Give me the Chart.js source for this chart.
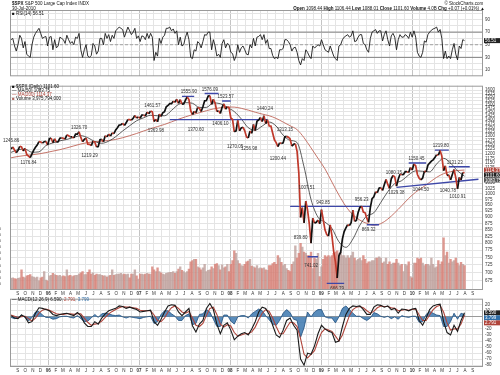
<!DOCTYPE html>
<html>
<head>
<meta charset="utf-8">
<script src="https://cdn.jsdelivr.net/npm/chart.js@4.4.1/dist/chart.umd.min.js"></script>
<style>
  body { margin: 0; background: #fff; }
  #wrap { position: relative; width: 500px; height: 375px; overflow: hidden; font-family: "Liberation Sans", Arial, sans-serif; }
  canvas { position: absolute; left: 0; }
  .t { position: absolute; font-size: 10px; line-height: 1; white-space: nowrap; color: #111; transform: scale(0.45); transform-origin: 0 0; }
  .r { transform-origin: 100% 0; }
</style>
</head>
<body>
<div id="wrap">
  <canvas id="rsi" width="500" height="81" style="top:0"></canvas>
  <canvas id="main" width="500" height="216" style="top:81px"></canvas>
  <canvas id="macd" width="500" height="81" style="top:294px"></canvas>

  <div class="t" style="left:12px;top:1px"><b>$SPX</b> S&amp;P 500 Large Cap Index INDX</div>
  <div class="t" style="left:12px;top:6px">30-Jul-2010</div>
  <div class="t" style="left:12px;top:11px">&#9632; RSI(14) 56.51</div>
  <div class="t r" style="right:17px;top:1px">&copy; StockCharts.com</div>
  <div class="t r" style="right:15px;top:6px"><b>Open</b> 1098.44 <b>High</b> 1106.44 <b>Low</b> 1088.01 <b>Close</b> 1101.60 <b>Volume</b> 4.0B <b>Chg</b> +0.07 (+0.01%) &#9650;</div>

  <div class="t" style="left:12px;top:84px">&#9632; $SPX (Daily) 1101.60</div>
  <div class="t" style="left:12px;top:88px">&mdash; MA(50) 1083.75</div>
  <div class="t" style="left:12px;top:92px;color:#b0443a">&mdash; MA(200) 1114.37</div>
  <div class="t" style="left:12px;top:96px;color:#b06a62">&#9632; <span style="color:#111">Volume 3,975,794,000</span></div>

  <div class="t" style="left:12px;top:297px">&mdash; MACD(12,26,9) 6.590, <span style="color:#b0443a">2.791</span>, <span style="color:#2f6ea8">3.799</span></div>
</div>

<script>
// weekly closes, week 0 = Fri 5 Aug 2005, last = Fri 30 Jul 2010
const price = [
  // 2005
  1226,1237,1220,1205,1218,1241,1237,1215,1229,1196,1187,1179,1199,1220,1235,1248,1268,1265,1259,1267,1269,1248,
  // 2006
  1285,1288,1261,1284,1264,1267,1287,1289,1287,1282,1307,1302,1295,1295,1289,1311,1311,1325,1292,1267,
  1280,1288,1253,1252,1245,1270,1265,1237,1240,1278,1280,1267,1302,1295,1311,1299,1319,1314,1336,1350,
  1366,1368,1377,1364,1380,1401,1400,1397,1409,1427,1410,1418,
  // 2007
  1409,1430,1430,1423,1449,1438,1456,1451,1388,1402,1386,1436,1421,1444,1452,1484,1494,1505,1505,1522,
  1515,1536,1507,1533,1502,1503,1530,1552,1534,1458,1433,1453,1445,1479,1474,1453,1484,1525,1527,1557,
  1561,1500,1535,1509,1453,1458,1440,1481,1504,1468,1484,1478,
  // 2008
  1411,1401,1325,1330,1395,1331,1349,1353,1331,1294,1288,1330,1316,1370,1332,1390,1398,1414,1388,1425,
  1375,1400,1361,1360,1318,1278,1262,1239,1261,1257,1260,1296,1298,1293,1283,1242,1252,1255,1213,1099,
  899,940,877,968,930,873,800,896,876,879,888,873,
  // 2009
  931,890,850,832,826,869,827,770,735,683,756,768,816,843,857,870,866,878,929,883,
  887,919,940,946,921,918,896,879,940,979,987,1010,1005,1026,1029,1016,1042,1068,1044,1025,
  1071,1087,1080,1036,1069,1093,1091,1092,1106,1106,1102,1127,1115,
  // 2010
  1145,1136,1092,1074,1066,1075,1109,1105,1139,1150,1160,1167,1179,1194,1192,1217,1187,1111,1136,1088,
  1089,1065,1092,1117,1076,1023,1078,1065,1102,1101.6
];

// weekly volume (axis units, 1000 = top label)
const volume = [
  190,200,185,180,190,200,330,210,200,230,240,250,220,210,200,210,150,200,210,300,160,150,
  230,240,270,250,240,230,240,220,230,220,330,230,240,220,230,240,240,260,280,300,250,
  250,290,330,260,280,240,260,250,250,240,230,230,210,230,240,330,240,250,260,260,270,250,
  260,250,260,200,260,260,330,230,180,
  260,260,250,260,270,260,260,380,330,300,360,300,280,260,250,270,280,290,290,300,270,
  300,340,380,320,300,280,300,340,460,480,500,500,380,360,330,360,420,300,320,330,380,350,
  420,430,400,330,410,360,380,420,300,
  420,480,640,600,480,430,400,390,420,460,470,500,390,380,360,400,350,360,350,360,330,320,
  400,400,430,450,420,560,520,450,400,420,350,320,300,420,460,720,520,600,760,700,620,600,
  560,560,620,350,520,500,600,220,
  380,500,560,540,560,540,560,600,620,640,600,620,560,560,520,560,520,560,620,520,480,500,
  520,480,560,500,430,460,460,480,480,520,520,540,520,440,460,520,420,460,420,440,440,500,
  440,400,420,300,420,400,460,220,200,
  440,440,520,500,520,440,400,420,420,400,520,420,360,380,480,420,460,850,560,620,440,
  500,460,480,520,440,400,450,420,400
];

// moving averages, sampled every 4 weeks
const ma50 = [
  1207,1222,1225,1208,1210,1245,1260,1272,1280,1292,1302,1290,1268,1258,1270,1296,1330,1362,1393,1412,
  1428,1425,1425,1460,1500,1512,1508,1480,1480,1510,1505,1480,1452,1405,1350,1335,1360,1385,1360,1305,
  1275,1262,1130,975,900,880,855,805,785,815,868,905,918,962,1010,1048,1062,1090,1110,1108,
  1105,1145,1175,1150,1110,1083.75
];
const ma200 = [
  1178,1185,1190,1194,1199,1206,1214,1222,1232,1243,1254,1262,1267,1270,1274,1280,1290,1302,1315,1330,
  1344,1357,1370,1386,1403,1418,1432,1445,1458,1470,1478,1483,1482,1474,1462,1448,1436,1425,1408,1385,
  1362,1338,1290,1232,1175,1120,1055,995,945,910,888,875,868,874,892,918,948,980,1008,1030,
  1054,1078,1096,1106,1112,1114.37
];

// RSI(14), weekly
const rsi = [
  58,60,48,40,50,65,60,45,55,35,32,30,50,62,68,72,76,68,60,62,63,48,
  62,63,42,58,45,48,62,60,58,52,65,58,52,55,50,62,60,68,42,30,42,50,32,30,33,52,48,35,40,60,
  60,50,68,60,66,55,65,60,72,75,78,76,74,62,70,78,72,66,70,76,60,64,
  55,64,63,58,68,60,68,62,25,38,32,60,52,62,65,76,76,78,72,75,68,72,50,62,48,50,62,70,58,30,
  28,42,40,55,52,45,55,66,65,70,70,42,58,48,32,35,30,52,58,45,52,50,
  38,36,25,32,50,38,45,48,42,35,34,50,45,60,48,62,63,66,58,66,52,58,44,44,33,28,30,28,42,42,
  44,58,58,55,50,40,45,46,38,25,18,28,25,42,38,32,28,48,45,47,50,48,
  58,50,42,40,38,48,40,32,28,25,48,50,58,62,64,66,62,64,72,55,56,62,66,66,52,50,42,38,60,70,
  72,74,68,72,72,56,66,72,58,48,64,68,62,42,58,66,62,62,66,64,60,70,62,
  72,62,38,32,30,38,56,54,66,70,73,75,76,78,70,74,60,28,40,28,32,28,42,52,35,26,48,44,58,56.51
];

// MACD(12,26,9), sampled every 2 weeks
const macdLine = [
  2,-2,-3,3,0,-10,-8,6,15,14, 12,10,4,2,4,5,6,4,2,7, 2,-10,-16,-16,-8,-12,-2,5,10,12,
  14,18,17,14,16,14,12,8,9,10, 11,-8,-14,-4,8,18,20,19,8,2, 8,14,-15,-25,-12,-6,14,22,12,-12,
  -28,-14,-10,-22,-38,-32,-28,-26,-30,-20, -8,8,16,14,4,-14,-30,-34,-22,-6,
  -2,-14,-22,-70,-80,-60,-62,-48,-28,-14, -20,-24,-26,-42,-40,-16,4,14,18,17,
  18,12,4,4,16,20,19,16,18,12, 14,6,13,12,10,13,14,-6,-14,-2, 12,18,20,21,-8,-26,-30,-14,-24,-6, 6.59
];
const macdSignal = [
  3,1,-1,0,1,-3,-7,-2,6,11, 13,11,8,5,4,4,5,5,4,5, 5,-2,-9,-14,-12,-11,-7,-1,5,9,
  12,15,17,16,16,15,14,11,10,10, 10,3,-6,-8,-2,8,15,18,14,8, 6,9,-2,-14,-16,-11,2,14,16,4,
  -12,-17,-13,-15,-26,-32,-30,-28,-28,-25, -17,-5,6,12,9,-2,-16,-28,-28,-18,
  -9,-10,-16,-36,-62,-68,-62,-56,-40,-26, -20,-22,-24,-32,-40,-30,-14,2,12,16,
  17,15,10,6,9,15,18,17,17,15, 14,10,11,12,11,12,13,3,-6,-6, 3,12,17,19,8,-10,-22,-20,-20,-12, 2.791
];
const macdHist = [
  -1,-3,-2,3,-1,-7,-1,8,9,3, -1,-1,-4,-3,0,1,1,-1,-2,2, -3,-8,-7,-2,4,-1,5,6,5,3,
  2,3,0,-2,0,-1,-2,-3,-1,0, 1,-11,-8,4,10,10,5,1,-6,-6, 2,5,-13,-11,4,5,12,8,-4,-16,
  -16,3,3,-7,-12,0,2,2,-2,5, 9,13,10,2,-5,-12,-14,-6,6,12,
  7,-4,-6,-34,-18,8,0,8,12,12, 0,-2,-2,-10,0,14,18,12,6,1,
  1,-3,-6,-2,7,5,1,-1,1,-3, 0,-4,2,0,-1,1,1,-9,-8,4, 9,6,3,2,-16,-16,-8,6,-4,6, 3.799
];

// swing point labels (week, price, +1 above / -1 below)
const swingWeek  = [0, 10, 39, 45, 81, 83, 102, 106, 114, 120, 123, 128.5, 136.5, 145.5, 153, 157, 166, 169.5, 172, 179, 187, 201, 205, 219.5, 221, 232.5, 235, 246.4, 250.5, 254.4, 256];
const swingPrice = [1245.86, 1176.84, 1326.70, 1219.29, 1461.57, 1363.98, 1555.90, 1370.60, 1576.09, 1406.10, 1523.57, 1270.05, 1256.98, 1440.24, 1200.44, 1313.15, 839.80, 1007.51, 741.02, 943.85, 666.79, 956.23, 869.32, 1080.15, 1029.38, 1150.45, 1044.50, 1219.80, 1040.78, 1131.23, 1010.91];
const swingSide  = [1, -1, 1, -1, 1, -1, 1, -1, 1, -1, 1, -1, -1, 1, -1, 1, -1, 1, -1, 1, -1, 1, -1, 1, -1, 1, -1, 1, -1, 1, -1];

// drawn trend lines (from week, to week, start price, end price)
const lineFrom = [98, 111, 121, 91, 160, 170, 181, 204, 221, 228, 243, 251];
const lineTo   = [105, 119, 126, 147, 206, 176, 191, 211, 268, 238, 251, 263];
const lineP1   = [1555.9, 1576.09, 1523.57, 1400, 945, 752, 666.79, 869.32, 1030, 1150.45, 1219.8, 1131.23];
const lineP2   = [1555.9, 1576.09, 1523.57, 1400, 945, 752, 666.79, 869.32, 1069, 1150.45, 1219.8, 1131.23];

// axis ticks
const priceTicks = [675,700,725,750,775,800,825,850,875,900,925,950,975,1000,1025,1050,1075,1100,1125,1150,1175,
  1200,1225,1250,1275,1300,1325,1350,1375,1400,1425,1450,1475,1500,1525,1550,1575,1600];
const volTicks = [100,200,300,400,500,600,700,800,900,1000];
const rsiGrid = [10,20,30,40,50,60,70,80,90,100];
const rsiTicks = [10,30,50,70,90];
const rsiLevels = [30,50,70];
const macdTicks = [20,10,0,-10,-20,-30,-40,-50,-60,-70,-80];
const monthLetters = ['J','F','M','A','M','J','J','A','S','O','N','D'];

// value boxes on the right axis
const lastPrice = 1101.60, lastMa50 = 1083.75, lastMa200 = 1114.37;

const FONT = '"Liberation Sans", Arial, sans-serif';
const X_MIN = -0.6, X_MAX = 270.6;
const WEEK0 = Date.UTC(2005, 7, 5);

const monthPos = [], monthLbl = [], monthJan = [];
for (let y = 2005, m = 8; y * 12 + m <= 2010 * 12 + 8; m++) {
  if (m > 11) { m = 0; y++; }
  monthPos.push((Date.UTC(y, m, 1) - WEEK0) / (7 * 86400000));
  monthLbl.push(m === 0 ? String(y).slice(2) : monthLetters[m]);
  monthJan.push(m === 0);
}

Chart.defaults.font.family = FONT;
Chart.defaults.animation = false;
Chart.defaults.plugins.legend.display = false;
Chart.defaults.plugins.tooltip.enabled = false;

function xAxis(showLabels, h) {
  return {
    type: 'linear', min: X_MIN, max: X_MAX, offset: false,
    afterBuildTicks: s => { s.ticks = monthPos.map(v => ({ value: v })); },
    afterFit: s => { s.height = h; },
    grid: { offset: false, drawTicks: false, color: c => monthJan[c.index] ? '#c4c4c4' : '#e4e4e4' },
    border: { display: false },
    ticks: {
      display: showLabels, autoSkip: false, maxRotation: 0, padding: 1, color: '#333',
      font: c => ({ size: 4.5, family: FONT, weight: monthJan[c.index] ? 'bold' : 'normal' }),
      callback: (v, i) => monthLbl[i]
    }
  };
}

const frame = {
  id: 'frame',
  afterDraw(c) {
    const a = c.chartArea, g = c.ctx;
    g.save();
    g.strokeStyle = '#9a9a9a';
    g.lineWidth = 1;
    g.strokeRect(a.left + 0.5, a.top + 0.5, a.right - a.left - 1, a.bottom - a.top - 1);
    g.restore();
  }
};

function drawBoxes(c, scaleId, items) {
  const g = c.ctx, s = c.scales[scaleId], left = c.chartArea.right + 1;
  g.save();
  g.font = '4.5px ' + FONT;
  g.textBaseline = 'middle';
  let prev = null;
  items.forEach(it => {
    let py = s.getPixelForValue(it.v);
    if (prev !== null && py - prev < 5) py = prev + 5;
    prev = py;
    g.fillStyle = it.bg;
    g.fillRect(left, py - 2.5, 16, 5);
    g.fillStyle = it.fg;
    g.fillText(it.t, left + 1, py + 0.3);
  });
  g.restore();
}

// ---------- RSI ----------
new Chart(document.getElementById('rsi'), {
  type: 'line',
  data: {
    datasets: [
      { data: rsi.map((v, i) => ({ x: i, y: v })), borderColor: '#1a1a1a', borderWidth: 0.9, pointRadius: 0, order: 0 },
      ...rsiLevels.map(l => ({
        data: [{ x: X_MIN, y: l }, { x: X_MAX, y: l }],
        borderColor: l === 50 ? '#a0a0a0' : '#808080', borderWidth: 1,
        borderDash: l === 50 ? [3, 2] : [], pointRadius: 0, order: 5
      }))
    ]
  },
  options: {
    responsive: false, devicePixelRatio: 1,
    layout: { padding: { left: 10, top: 10, right: 0, bottom: 0 } },
    scales: {
      x: xAxis(false, 0),
      y: {
        position: 'right', min: 0, max: 105,
        afterBuildTicks: s => { s.ticks = rsiGrid.map(v => ({ value: v })); },
        afterFit: s => { s.width = 17; },
        grid: { drawTicks: false, color: '#e4e4e4' }, border: { display: false },
        ticks: { autoSkip: false, padding: 2, color: '#333', font: { size: 4.5 }, callback: v => rsiTicks.includes(v) ? v : '' }
      }
    }
  },
  plugins: [frame, { id: 'rsiBox', afterDraw: c => drawBoxes(c, 'y', [{ v: 56.51, t: '56.51', bg: '#222', fg: '#fff' }]) }]
});

// ---------- price + volume ----------
const swingPlugin = {
  id: 'swings',
  afterDatasetsDraw(c) {
    const g = c.ctx, x = c.scales.x, y = c.scales.y;
    g.save();
    g.font = '4.5px ' + FONT;
    g.fillStyle = '#333';
    g.textAlign = 'center';
    swingWeek.forEach((w, i) => {
      const up = swingSide[i] > 0;
      g.textBaseline = up ? 'bottom' : 'top';
      g.fillText(swingPrice[i].toFixed(2), x.getPixelForValue(w), y.getPixelForValue(swingPrice[i]) + (up ? -2 : 3));
    });
    g.restore();
  },
  afterDraw(c) {
    drawBoxes(c, 'y', [
      { v: lastMa200, t: lastMa200.toFixed(2), bg: '#b0443a', fg: '#fff' },
      { v: lastPrice, t: lastPrice.toFixed(2), bg: '#222', fg: '#fff' },
      { v: lastMa50, t: lastMa50.toFixed(2), bg: '#555', fg: '#fff' }
    ]);
  }
};

const trendSets = lineFrom.map((f, i) => ({
  type: 'line',
  data: [{ x: f, y: lineP1[i] }, { x: lineTo[i], y: lineP2[i] }],
  borderColor: '#3d47a8', borderWidth: 1.4, pointRadius: 0, yAxisID: 'y', order: 1
}));

new Chart(document.getElementById('main'), {
  type: 'line',
  data: {
    datasets: [
      {
        type: 'line', data: price.map((v, i) => ({ x: i, y: v })), yAxisID: 'y', order: 0,
        borderWidth: 1.7, pointRadius: 0, borderColor: '#111',
        segment: { borderColor: s => s.p1.parsed.y < s.p0.parsed.y ? '#c0392b' : '#111' }
      },
      { type: 'line', data: ma50.map((v, i) => ({ x: i * 4, y: v })), yAxisID: 'y', order: 2, borderColor: '#333', borderWidth: 0.8, pointRadius: 0, cubicInterpolationMode: 'monotone' },
      { type: 'line', data: ma200.map((v, i) => ({ x: i * 4, y: v })), yAxisID: 'y', order: 3, borderColor: '#c0665a', borderWidth: 0.9, pointRadius: 0, cubicInterpolationMode: 'monotone' },
      ...trendSets,
      {
        type: 'bar', data: volume.map((v, i) => ({ x: i, y: v })), yAxisID: 'yv', order: 10,
        backgroundColor: volume.map((v, i) => i > 0 && price[i] < price[i - 1] ? 'rgba(214,128,118,0.8)' : 'rgba(190,160,156,0.8)'),
        barPercentage: 1, categoryPercentage: 1, borderWidth: 0
      }
    ]
  },
  options: {
    responsive: false, devicePixelRatio: 1,
    layout: { padding: 0 },
    scales: {
      x: xAxis(true, 7),
      y: {
        type: 'logarithmic', position: 'right', min: 647, max: 1633,
        afterBuildTicks: s => { s.ticks = priceTicks.map(v => ({ value: v })); },
        afterFit: s => { s.width = 17; },
        grid: { drawTicks: false, color: '#e4e4e4' }, border: { display: false },
        ticks: { autoSkip: false, padding: 2, color: '#333', font: { size: 4.5 }, callback: v => v }
      },
      yv: {
        type: 'linear', position: 'left', min: 0, max: 3333,
        afterBuildTicks: s => { s.ticks = volTicks.map(v => ({ value: v })); },
        afterFit: s => { s.width = 10; },
        grid: { display: false }, border: { display: false },
        ticks: { autoSkip: false, padding: 1, color: '#333', font: { size: 4 }, callback: v => v }
      }
    }
  },
  plugins: [frame, swingPlugin]
});

// ---------- MACD ----------
new Chart(document.getElementById('macd'), {
  type: 'line',
  data: {
    datasets: [
      { data: macdLine.map((v, i) => ({ x: i * 2, y: v })), borderColor: '#1a1a1a', borderWidth: 1.1, pointRadius: 0, order: 0 },
      { data: macdSignal.map((v, i) => ({ x: i * 2, y: v })), borderColor: '#b0443a', borderWidth: 1.1, pointRadius: 0, order: 1 },
      {
        data: macdHist.map((v, i) => ({ x: i * 2, y: v })), borderColor: '#1f4f7f', borderWidth: 0.8,
        backgroundColor: 'rgba(60,120,175,0.85)', fill: 'origin', pointRadius: 0, order: 2
      }
    ]
  },
  options: {
    responsive: false, devicePixelRatio: 1,
    layout: { padding: { left: 10, top: 2, right: 0, bottom: 0 } },
    scales: {
      x: xAxis(true, 8),
      y: {
        position: 'right', min: -83, max: 30,
        afterBuildTicks: s => { s.ticks = macdTicks.map(v => ({ value: v })); },
        afterFit: s => { s.width = 17; },
        grid: { drawTicks: false, color: c => c.tick && c.tick.value === 0 ? '#999' : '#e4e4e4' }, border: { display: false },
        ticks: { autoSkip: false, padding: 2, color: '#333', font: { size: 4.5 }, callback: v => v }
      }
    }
  },
  plugins: [frame, { id: 'macdBox', afterDraw: c => drawBoxes(c, 'y', [
    { v: 6.59, t: '6.590', bg: '#222', fg: '#fff' },
    { v: 3.799, t: '3.799', bg: '#2f6ea8', fg: '#fff' },
    { v: 2.791, t: '2.791', bg: '#b0443a', fg: '#fff' }
  ]) }]
});
</script>
</body>
</html>
